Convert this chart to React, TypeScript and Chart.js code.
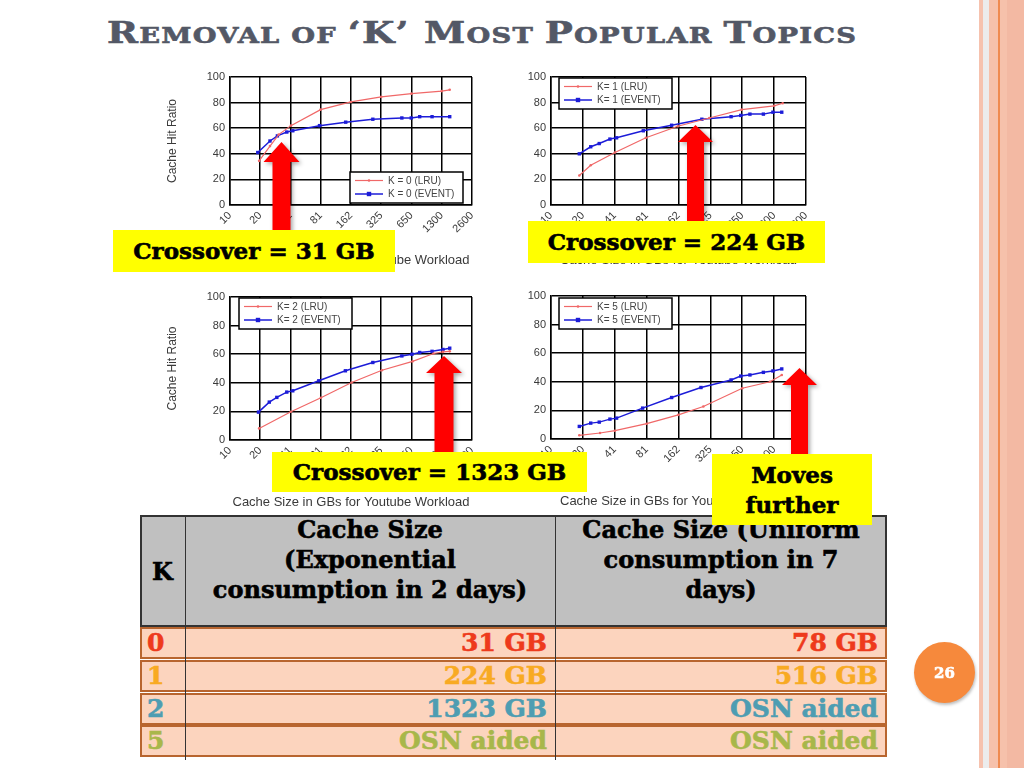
import React, { useEffect, useLayoutEffect, useRef } from 'react';
import { Chart, registerables } from 'chart.js';

Chart.register(...registerables);

// ---------- data ----------
const tickSizes = [10.16, 20.31, 40.63, 81.25, 162.5, 325, 650, 1300, 2600];
const tickLabels = ['10', '20', '41', '81', '162', '325', '650', '1300', '2600'];

const k0LruSize = [19.8, 25.4, 31, 41, 81, 162, 325, 650, 1300, 1560];
const k0LruHit = [34.5, 46, 55, 62, 74.5, 80.5, 84.5, 87, 89, 90];
const k0EventSize = [19.2, 25.4, 30.1, 37.3, 42.8, 79, 144, 268, 521, 646, 784, 1041, 1561];
const k0EventHit = [41, 50, 54, 57, 58, 62, 64.7, 67, 68, 68, 69, 69, 69];

const k1LruSize = [18.8, 24.1, 40.8, 80, 160, 318, 643, 1300, 1566];
const k1LruHit = [23, 31, 41, 52.5, 61.5, 68, 74.5, 77.5, 79.5];
const k1EventSize = [18.8, 24.1, 29.0, 36.6, 42.3, 75.6, 140, 270, 510, 629, 768, 1029, 1267, 1535];
const k1EventHit = [40, 45.5, 48, 51.5, 52.5, 58, 62.3, 67, 69, 70, 71, 71, 72.5, 72.5];

const k2LruSize = [19.8, 41, 81.6, 165, 330, 667, 1078, 1336, 1561];
const k2LruHit = [8.1, 19.8, 29.5, 40.2, 48.8, 55, 60.5, 61.6, 62];
const k2EventSize = [19.5, 25.0, 29.7, 37.3, 42.8, 77.7, 143, 268, 521, 657, 784, 1041, 1336, 1561];
const k2EventHit = [19.5, 26.5, 29.8, 33.5, 34.4, 41.4, 48.4, 54.2, 58.8, 60, 61.2, 62, 63.3, 64.2];

const k5LruSize = [18.8, 29.5, 40.8, 81.5, 162, 279, 650, 1190, 1535];
const k5LruHit = [2.6, 4.2, 5.8, 10.7, 16.9, 22.7, 35.5, 40, 44.8];
const k5EventSize = [18.8, 24.1, 29.0, 36.6, 42.3, 74.5, 140, 265, 510, 629, 768, 1029, 1267, 1535];
const k5EventHit = [8.8, 11.1, 11.8, 13.9, 14.6, 21.6, 29, 36, 41.3, 44, 44.8, 46.6, 47.6, 49];

const tableK = ['0', '1', '2', '5'];
const tableExp = ['31 GB', '224 GB', '1323 GB', 'OSN aided'];
const tableUni = ['78 GB', '516 GB', 'OSN aided', 'OSN aided'];
const rowColors = ['#ee3a1c', '#f8aa22', '#4e9db2', '#a8b74a'];

// ---------- styles ----------
const LRU_COLOR = '#f06868';
const EVENT_COLOR = '#1c1cd8';
const SANS = "'Liberation Sans', Arial, sans-serif";
const SERIF = "'DejaVu Serif', serif";
const HEAVY = { fontFamily: SERIF, fontWeight: 'bold' as const, WebkitTextStroke: '0.6px currentColor' };

const zip = (xs: number[], ys: number[]) => xs.map((x, i) => ({ x, y: ys[i] }));

const insideLegend = {
  id: 'insideLegend',
  afterDraw(chart: any, _args: any, opts: any) {
    const { ctx, chartArea } = chart;
    const w = 113;
    const h = 31;
    const x = opts.corner === 'br' ? chartArea.right - opts.dx - w : chartArea.left + opts.dx;
    const y = opts.corner === 'br' ? chartArea.bottom - opts.dy - h : chartArea.top + opts.dy;
    ctx.save();
    ctx.fillStyle = '#fff';
    ctx.fillRect(x, y, w, h);
    ctx.strokeStyle = '#000';
    ctx.lineWidth = 1.5;
    ctx.strokeRect(x, y, w, h);
    chart.data.datasets.forEach((ds: any, i: number) => {
      const cy = y + 8.5 + i * 13.5;
      ctx.strokeStyle = ds.borderColor;
      ctx.lineWidth = ds.borderWidth;
      ctx.beginPath();
      ctx.moveTo(x + 5, cy);
      ctx.lineTo(x + 33, cy);
      ctx.stroke();
      ctx.fillStyle = ds.borderColor;
      if (ds.pointStyle === 'rect') {
        ctx.fillRect(x + 19 - 2.2, cy - 2.2, 4.4, 4.4);
      } else {
        ctx.beginPath();
        ctx.arc(x + 19, cy, 1.3, 0, Math.PI * 2);
        ctx.fill();
      }
      ctx.fillStyle = '#444';
      ctx.font = `10px ${SANS}`;
      ctx.textBaseline = 'middle';
      ctx.fillText(ds.label, x + 38, cy + 0.5);
    });
    ctx.restore();
  },
};

type LCProps = {
  left: number; top: number; width: number; height: number;
  yAxisW: number; xAxisH: number; padTop: number; padRight: number;
  showYTitle: boolean; kName: string;
  lruSize: number[]; lruHit: number[]; evSize: number[]; evHit: number[];
  corner: string; dx: number; dy: number;
};

function LineChart(p: LCProps) {
  const ref = useRef<HTMLCanvasElement | null>(null);
  useEffect(() => {
    if (!ref.current) return;
    const chart = new Chart(ref.current, {
      type: 'line',
      data: {
        datasets: [
          {
            label: `${p.kName} (LRU)`,
            data: zip(p.lruSize, p.lruHit),
            borderColor: LRU_COLOR,
            backgroundColor: LRU_COLOR,
            borderWidth: 1.2,
            pointStyle: 'circle',
            pointRadius: 1.3,
            pointBorderWidth: 0,
          },
          {
            label: `${p.kName} (EVENT)`,
            data: zip(p.evSize, p.evHit),
            borderColor: EVENT_COLOR,
            backgroundColor: EVENT_COLOR,
            borderWidth: 1.5,
            pointStyle: 'rect',
            pointRadius: 2.4,
            pointBorderWidth: 0,
          },
        ],
      },
      options: {
        animation: false,
        responsive: true,
        maintainAspectRatio: false,
        layout: { padding: { top: p.padTop, right: p.padRight, left: 0, bottom: 0 } },
        plugins: {
          legend: { display: false },
          tooltip: { enabled: false },
          insideLegend: { corner: p.corner, dx: p.dx, dy: p.dy },
        } as any,
        scales: {
          x: {
            type: 'logarithmic',
            min: tickSizes[0],
            max: tickSizes[tickSizes.length - 1],
            afterBuildTicks: (s: any) => {
              s.ticks = tickSizes.map((v) => ({ value: v }));
            },
            afterFit: (s: any) => {
              s.height = p.xAxisH;
              s.paddingLeft = 0;
              s.paddingRight = 0;
            },
            ticks: {
              autoSkip: false,
              minRotation: 45,
              maxRotation: 45,
              padding: 4,
              color: '#3a3a3a',
              font: { family: SANS, size: 11 },
              callback: (_v: any, i: number) => tickLabels[i],
            },
            grid: { color: '#000', lineWidth: 1.5, drawTicks: false },
            border: { color: '#000', width: 1.5 },
            title: {
              display: true,
              text: 'Cache Size in GBs for Youtube Workload',
              color: '#3a3a3a',
              font: { family: SANS, size: 13 },
              padding: { top: 2, bottom: 2 },
            },
          },
          y: {
            min: 0,
            max: 100,
            afterFit: (s: any) => {
              s.width = p.yAxisW;
              s.paddingTop = 0;
              s.paddingBottom = 0;
            },
            ticks: {
              stepSize: 20,
              padding: 5,
              color: '#3a3a3a',
              font: { family: SANS, size: 11 },
            },
            grid: { color: '#000', lineWidth: 1.5, drawTicks: false },
            border: { color: '#000', width: 1.5 },
            title: {
              display: p.showYTitle,
              text: 'Cache Hit Ratio',
              color: '#3a3a3a',
              font: { family: SANS, size: 12 },
              padding: { top: 0, bottom: 0 },
            },
          },
        },
      } as any,
      plugins: [insideLegend],
    });
    return () => chart.destroy();
  }, []);
  return (
    <div style={{ position: 'absolute', left: p.left, top: p.top, width: p.width, height: p.height }}>
      <canvas ref={ref} />
    </div>
  );
}

// ---------- overlays ----------
const arrows = [
  { cx: 281.5, tipY: 142, headY: 162, headHalf: 18, shaftHalf: 9, bottom: 236 },
  { cx: 695.5, tipY: 125, headY: 142, headHalf: 17.5, shaftHalf: 8.5, bottom: 226 },
  { cx: 444, tipY: 356, headY: 373, headHalf: 18, shaftHalf: 9.5, bottom: 456 },
  { cx: 799.5, tipY: 368, headY: 385, headHalf: 17.5, shaftHalf: 8.5, bottom: 458 },
];

const callouts = [
  { left: 113, top: 230, width: 282, height: 42, lines: ['Crossover = 31 GB'] },
  { left: 528, top: 221, width: 297, height: 42, lines: ['Crossover = 224 GB'] },
  { left: 272, top: 452, width: 315, height: 40, lines: ['Crossover = 1323 GB'] },
  { left: 712, top: 454, width: 160, height: 71, lines: ['Moves', 'further'] },
];

function Title() {
  const ref = useRef<HTMLDivElement | null>(null);
  useLayoutEffect(() => {
    const el = ref.current;
    if (!el) return;
    const w = el.scrollWidth;
    if (w > 0) el.style.transform = `scaleX(${750 / w})`;
  }, []);
  const big = { fontSize: 30 };
  const sm = { fontSize: 22 };
  return (
    <div
      ref={ref}
      style={{
        position: 'absolute', left: 107, top: 13, whiteSpace: 'nowrap', display: 'inline-block',
        transformOrigin: 'left top', ...HEAVY, color: '#535866',
        lineHeight: '40px', letterSpacing: 1,
      }}
    >
      <span style={big}>R</span><span style={sm}>EMOVAL OF </span>
      <span style={big}>‘K’ M</span><span style={sm}>OST </span>
      <span style={big}>P</span><span style={sm}>OPULAR </span>
      <span style={big}>T</span><span style={sm}>OPICS</span>
    </div>
  );
}

export default function App() {
  const rowTop = 627;
  const rowStep = 32.8;
  return (
    <div style={{ position: 'absolute', left: 0, top: 0, width: 1024, height: 768, overflow: 'hidden', background: '#fff' }}>
      {/* right decorative border */}
      <div style={{ position: 'absolute', left: 979, top: 0, width: 4, height: 768, background: '#f6c2ae' }} />
      <div style={{ position: 'absolute', left: 983, top: 0, width: 6, height: 768, background: '#ececec' }} />
      <div style={{ position: 'absolute', left: 989, top: 0, width: 35, height: 768, background: '#f6c1ab' }} />
      <div style={{ position: 'absolute', left: 1007, top: 0, width: 17, height: 768, background: '#f3b9a3' }} />
      <div style={{ position: 'absolute', left: 998, top: 0, width: 1.5, height: 768, background: '#ef8a50' }} />

      <Title />

      <LineChart left={165} top={67} width={325} height={203} yAxisW={65} xAxisH={65} padTop={10} padRight={18}
        showYTitle kName="K = 0" lruSize={k0LruSize} lruHit={k0LruHit} evSize={k0EventSize} evHit={k0EventHit}
        corner="br" dx={9} dy={2} />
      <LineChart left={505} top={67} width={316} height={203} yAxisW={46} xAxisH={65} padTop={10} padRight={15}
        showYTitle={false} kName="K= 1" lruSize={k1LruSize} lruHit={k1LruHit} evSize={k1EventSize} evHit={k1EventHit}
        corner="tl" dx={8} dy={1} />
      <LineChart left={165} top={287} width={325} height={225} yAxisW={65} xAxisH={72} padTop={10} padRight={18}
        showYTitle kName="K= 2" lruSize={k2LruSize} lruHit={k2LruHit} evSize={k2EventSize} evHit={k2EventHit}
        corner="tl" dx={9} dy={1} />
      <LineChart left={505} top={286} width={316} height={225} yAxisW={46} xAxisH={72} padTop={10} padRight={15}
        showYTitle={false} kName="K= 5" lruSize={k5LruSize} lruHit={k5LruHit} evSize={k5EventSize} evHit={k5EventHit}
        corner="tl" dx={8} dy={2} />

      {/* table header */}
      <div style={{ position: 'absolute', left: 140, top: 515, width: 747, height: 112, background: '#c0c0c0', border: '2px solid #333', boxSizing: 'border-box' }} />
      <div style={{ position: 'absolute', left: 140, top: 515, width: 45, height: 112, display: 'flex', alignItems: 'center', justifyContent: 'center', ...HEAVY, fontSize: 24 }}>K</div>
      <div style={{ position: 'absolute', left: 185, top: 515, width: 370, height: 112, textAlign: 'center', ...HEAVY, fontSize: 24, lineHeight: '30px' }}>
        Cache Size<br />(Exponential<br />consumption in 2 days)
      </div>
      <div style={{ position: 'absolute', left: 555, top: 515, width: 332, height: 112, textAlign: 'center', ...HEAVY, fontSize: 24, lineHeight: '30px' }}>
        Cache Size (Uniform<br />consumption in 7<br />days)
      </div>
      {/* table rows */}
      {tableK.map((k, i) => (
        <div key={k} style={{ position: 'absolute', left: 140, top: rowTop + i * rowStep, width: 747, height: 32, background: '#fcd4be', border: '2.5px solid #b8652f', boxSizing: 'border-box' }} />
      ))}
      <div style={{ position: 'absolute', left: 184.5, top: 515, width: 1.5, height: 245, background: '#333' }} />
      <div style={{ position: 'absolute', left: 554.5, top: 515, width: 1.5, height: 245, background: '#333' }} />
      {tableK.map((k, i) => (
        <React.Fragment key={'t' + k}>
          <div style={{ position: 'absolute', left: 147, top: rowTop + i * rowStep - 1, height: 33, lineHeight: '33px', ...HEAVY, fontSize: 25, color: rowColors[i] }}>{k}</div>
          <div style={{ position: 'absolute', left: 190, width: 357, top: rowTop + i * rowStep - 1, height: 33, lineHeight: '33px', textAlign: 'right', ...HEAVY, fontSize: 25, color: rowColors[i] }}>{tableExp[i]}</div>
          <div style={{ position: 'absolute', left: 560, width: 318, top: rowTop + i * rowStep - 1, height: 33, lineHeight: '33px', textAlign: 'right', ...HEAVY, fontSize: 25, color: rowColors[i] }}>{tableUni[i]}</div>
        </React.Fragment>
      ))}

      {/* arrows */}
      <svg width={1024} height={768} style={{ position: 'absolute', left: 0, top: 0, filter: 'drop-shadow(2px 2px 2px rgba(0,0,0,0.35))' }}>
        {arrows.map((a, i) => (
          <polygon key={i} fill="#ff0000" points={[
            [a.cx, a.tipY], [a.cx + a.headHalf, a.headY], [a.cx + a.shaftHalf, a.headY], [a.cx + a.shaftHalf, a.bottom],
            [a.cx - a.shaftHalf, a.bottom], [a.cx - a.shaftHalf, a.headY], [a.cx - a.headHalf, a.headY],
          ].map((pt) => pt.join(',')).join(' ')} />
        ))}
      </svg>

      {/* callouts */}
      {callouts.map((c, i) => (
        <div key={i} style={{
          position: 'absolute', left: c.left, top: c.top, width: c.width, height: c.height, background: '#ffff00',
          display: 'flex', flexDirection: 'column', alignItems: 'center', justifyContent: 'center',
          ...HEAVY, fontSize: 23, lineHeight: '30px', color: '#000',
        }}>
          {c.lines.map((l) => <div key={l}>{l}</div>)}
        </div>
      ))}

      {/* page number */}
      <div style={{
        position: 'absolute', left: 914, top: 642, width: 61, height: 61, borderRadius: '50%', background: '#f6893c',
        boxShadow: '1px 2px 3px rgba(0,0,0,0.25)', color: '#fff', display: 'flex', alignItems: 'center', justifyContent: 'center',
        ...HEAVY, fontSize: 15,
      }}>26</div>
    </div>
  );
}
